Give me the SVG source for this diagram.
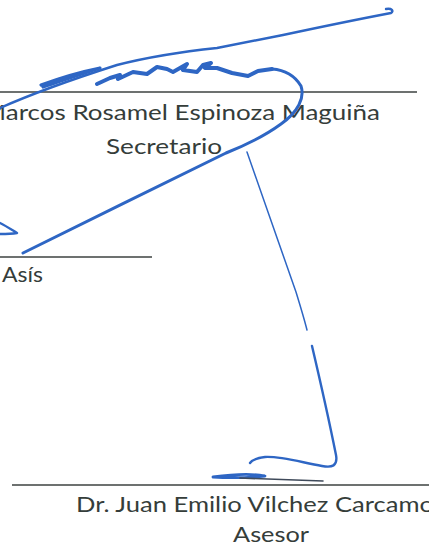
<svg xmlns="http://www.w3.org/2000/svg" width="429" height="546" viewBox="0 0 429 546">
<style>
.t{font-family:Lato,"Open Sans","Liberation Sans",sans-serif;font-size:22px;fill:#353d3a}
.rule{stroke:#3d4240;stroke-width:1.4;fill:none}
.ink{stroke:#2e66c4;fill:none;stroke-linecap:round;stroke-linejoin:round}
</style>
<rect width="429" height="546" fill="#ffffff"/>
<g id="rules">
<line class="rule" x1="0" y1="92" x2="417" y2="92"/>
<line class="rule" x1="0" y1="257" x2="152" y2="257"/>
<line class="rule" x1="12" y1="485" x2="429" y2="485"/>
</g>
<g id="labels">
<text class="t" x="-18" y="120" textLength="398" lengthAdjust="spacingAndGlyphs">Marcos Rosamel Espinoza Maguiña</text>
<text class="t" x="106" y="154" textLength="116" lengthAdjust="spacingAndGlyphs">Secretario</text>
<text class="t" x="2" y="282" textLength="41" lengthAdjust="spacingAndGlyphs">Asís</text>
<text class="t" x="76" y="512" textLength="358" lengthAdjust="spacingAndGlyphs">Dr. Juan Emilio Vilchez Carcamo</text>
<text class="t" x="233" y="542" textLength="76" lengthAdjust="spacingAndGlyphs">Asesor</text>
</g>
<g id="signature-1">
<path class="ink" stroke-width="2.4" d="M0,108 Q45,88 117,65 Q160,54 217,48 L283,35 C330,25 370,17 391,13 C394,11 392,8 386,9"/>
<path class="ink" stroke-width="3.2" d="M41,85 C60,78 80,72 100,68 C85,73 62,80 43,87"/>
<path class="ink" stroke-width="4" d="M97,84 L110,78 L120,75 L118,79 L133,72 L147,74 L157,67 L167,69 L173,72 L187,64 L183,70 L197,72 L203,65 L211,63 L205,68 L217,68 L232,73 L248,76 L258,71 L272,69"/>
<path class="ink" stroke-width="3" d="M272,69 C285,70 295,76 301,86 C305,98 298,112 281,124 C266,135 246,145 226,153 C170,180 80,225 23,253"/>
<path class="ink" stroke-width="2.4" d="M0,223 C6,226 12,230 17,233 C11,234 5,234 0,234"/>
</g>
<g id="signature-2">
<path class="ink" stroke-width="1.5" d="M247,152 C262,195 282,252 296,292 C300,305 304,318 307,330"/>
<path class="ink" stroke-width="2.4" d="M312,346 C320,380 331,430 336,455 C338,466 332,468 322,466 C300,462 280,456 265,457 C257,458 252,460 250,463"/>
<path class="ink" stroke-width="2.8" d="M213,477 C235,474 250,473 265,476 C245,478 228,478 213,477"/>
<path stroke="#3f4a5a" stroke-width="1.6" fill="none" stroke-linecap="round" d="M240,478 L323,481"/>
</g>
</svg>
